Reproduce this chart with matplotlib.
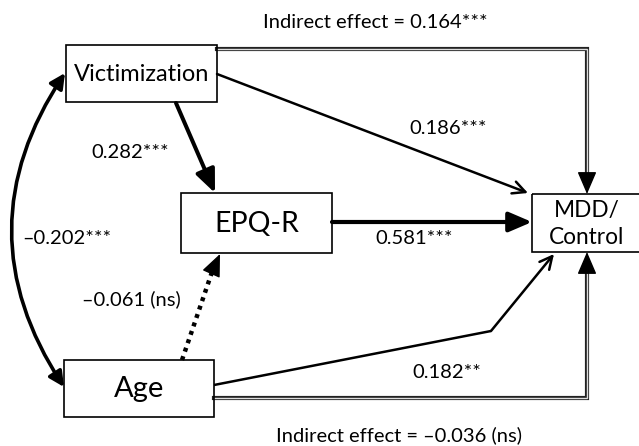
import matplotlib
matplotlib.use("Agg")
import matplotlib.pyplot as plt
from matplotlib.patches import Rectangle, FancyArrowPatch

plt.rcParams['font.family'] = ['Lato', 'DejaVu Sans']

# node names and path coefficients
nodes = ['Victimization', 'EPQ-R', 'Age', 'MDD/\nControl']
coef_vict_epq = '0.282***'
coef_vict_mdd = '0.186***'
coef_epq_mdd = '0.581***'
coef_age_epq = '\u20130.061 (ns)'
coef_age_mdd = '0.182**'
coef_vict_age = '\u20130.202***'
indirect_vict = 'Indirect effect = 0.164***'
indirect_age = 'Indirect effect = \u20130.036 (ns)'

# layout in pixel units (x0, y0, x1, y1), y measured from top
boxes = {
    'Victimization': (66, 45, 217, 102),
    'EPQ-R': (181, 193, 332, 253),
    'Age': (64, 360, 214, 417),
    'MDD/\nControl': (532, 194, 660, 252),
}
node_size = {'Victimization': 17, 'EPQ-R': 20.5, 'Age': 21, 'MDD/\nControl': 16.3}

fig = plt.figure(figsize=(6.39, 4.46), dpi=100)
ax = fig.add_axes([0, 0, 1, 1])
ax.set_xlim(0, 639)
ax.set_ylim(446, 0)
ax.axis('off')

for name in nodes:
    x0, y0, x1, y1 = boxes[name]
    ax.add_patch(Rectangle((x0, y0), x1 - x0, y1 - y0, fill=False,
                           lw=1.2, ec='black', zorder=3))
    cx = (x0 + min(x1, 639)) / 2 + (1 if name == 'MDD/\nControl' else 0)
    ax.text(cx, (y0 + y1) / 2 + 1, name, ha='center', va='center',
            fontsize=node_size[name], linespacing=1.3, zorder=4)


def arrow(p0, p1, lw, style, hl, hw, ls='-', **kw):
    a = FancyArrowPatch(p0, p1, arrowstyle=f'{style},head_length={hl},head_width={hw}',
                        lw=lw, color='black', shrinkA=0, shrinkB=0,
                        mutation_scale=1, linestyle=ls, zorder=2, **kw)
    ax.add_patch(a)


# Victimization -> EPQ-R (thick)
arrow((176, 103), (215, 193), 2.9, '-|>', 14, 6)
# Victimization -> MDD (thin, open head)
arrow((217, 74), (528, 193), 1.8, '->', 9, 4.5)
# EPQ-R -> MDD (thick)
arrow((332, 222), (532, 222), 3.0, '-|>', 14, 6)
# Age -> EPQ-R (dotted shaft + head)
ax.plot([182, 212], [360, 272], ls=(0, (0.9, 1.1)), lw=3.2, color='black', zorder=2)
arrow((212, 272), (220, 254), 1.0, '-|>', 14, 6)
# Age -> MDD (bent, open head)
ax.plot([214, 491], [385, 331], lw=1.8, color='black', zorder=2, solid_capstyle='butt')
arrow((491, 331), (554, 254), 1.8, '->', 9, 4.5)

# double-line paths to MDD
for xs, ys, tip0, tip1 in [
    ([217, 587, 587], [49, 49, 175], (587, 174), (587, 194)),
    ([214, 587, 587], [398, 398, 271], (587, 272), (587, 252)),
]:
    ax.plot(xs, ys, lw=3.0, color='#222222', zorder=2, solid_joinstyle='miter')
    ax.plot(xs, ys, lw=1.0, color='#dddddd', zorder=2, solid_joinstyle='miter')
    arrow(tip0, tip1, 1.0, '-|>', 14, 6)

# covariance Victimization <-> Age
ax.add_patch(FancyArrowPatch((65, 73), (64, 387),
                             connectionstyle='arc3,rad=0.33',
                             arrowstyle='<|-|>,head_length=9,head_width=4.5',
                             lw=2.6, color='black', shrinkA=0, shrinkB=0,
                             mutation_scale=1, zorder=2))

# labels
fs = 14.5
ax.text(375, 23, indirect_vict, ha='center', va='center', fontsize=fs)
ax.text(448, 128, coef_vict_mdd, ha='center', va='center', fontsize=fs)
ax.text(130, 153, coef_vict_epq, ha='center', va='center', fontsize=fs)
ax.text(22, 238, coef_vict_age, ha='left', va='center', fontsize=fs)
ax.text(414, 238, coef_epq_mdd, ha='center', va='center', fontsize=fs)
ax.text(131, 299, coef_age_epq, ha='center', va='center', fontsize=fs)
ax.text(447, 373, coef_age_mdd, ha='center', va='center', fontsize=fs)
ax.text(399, 435, indirect_age, ha='center', va='center', fontsize=fs)

fig.savefig('out.png', dpi=100)
